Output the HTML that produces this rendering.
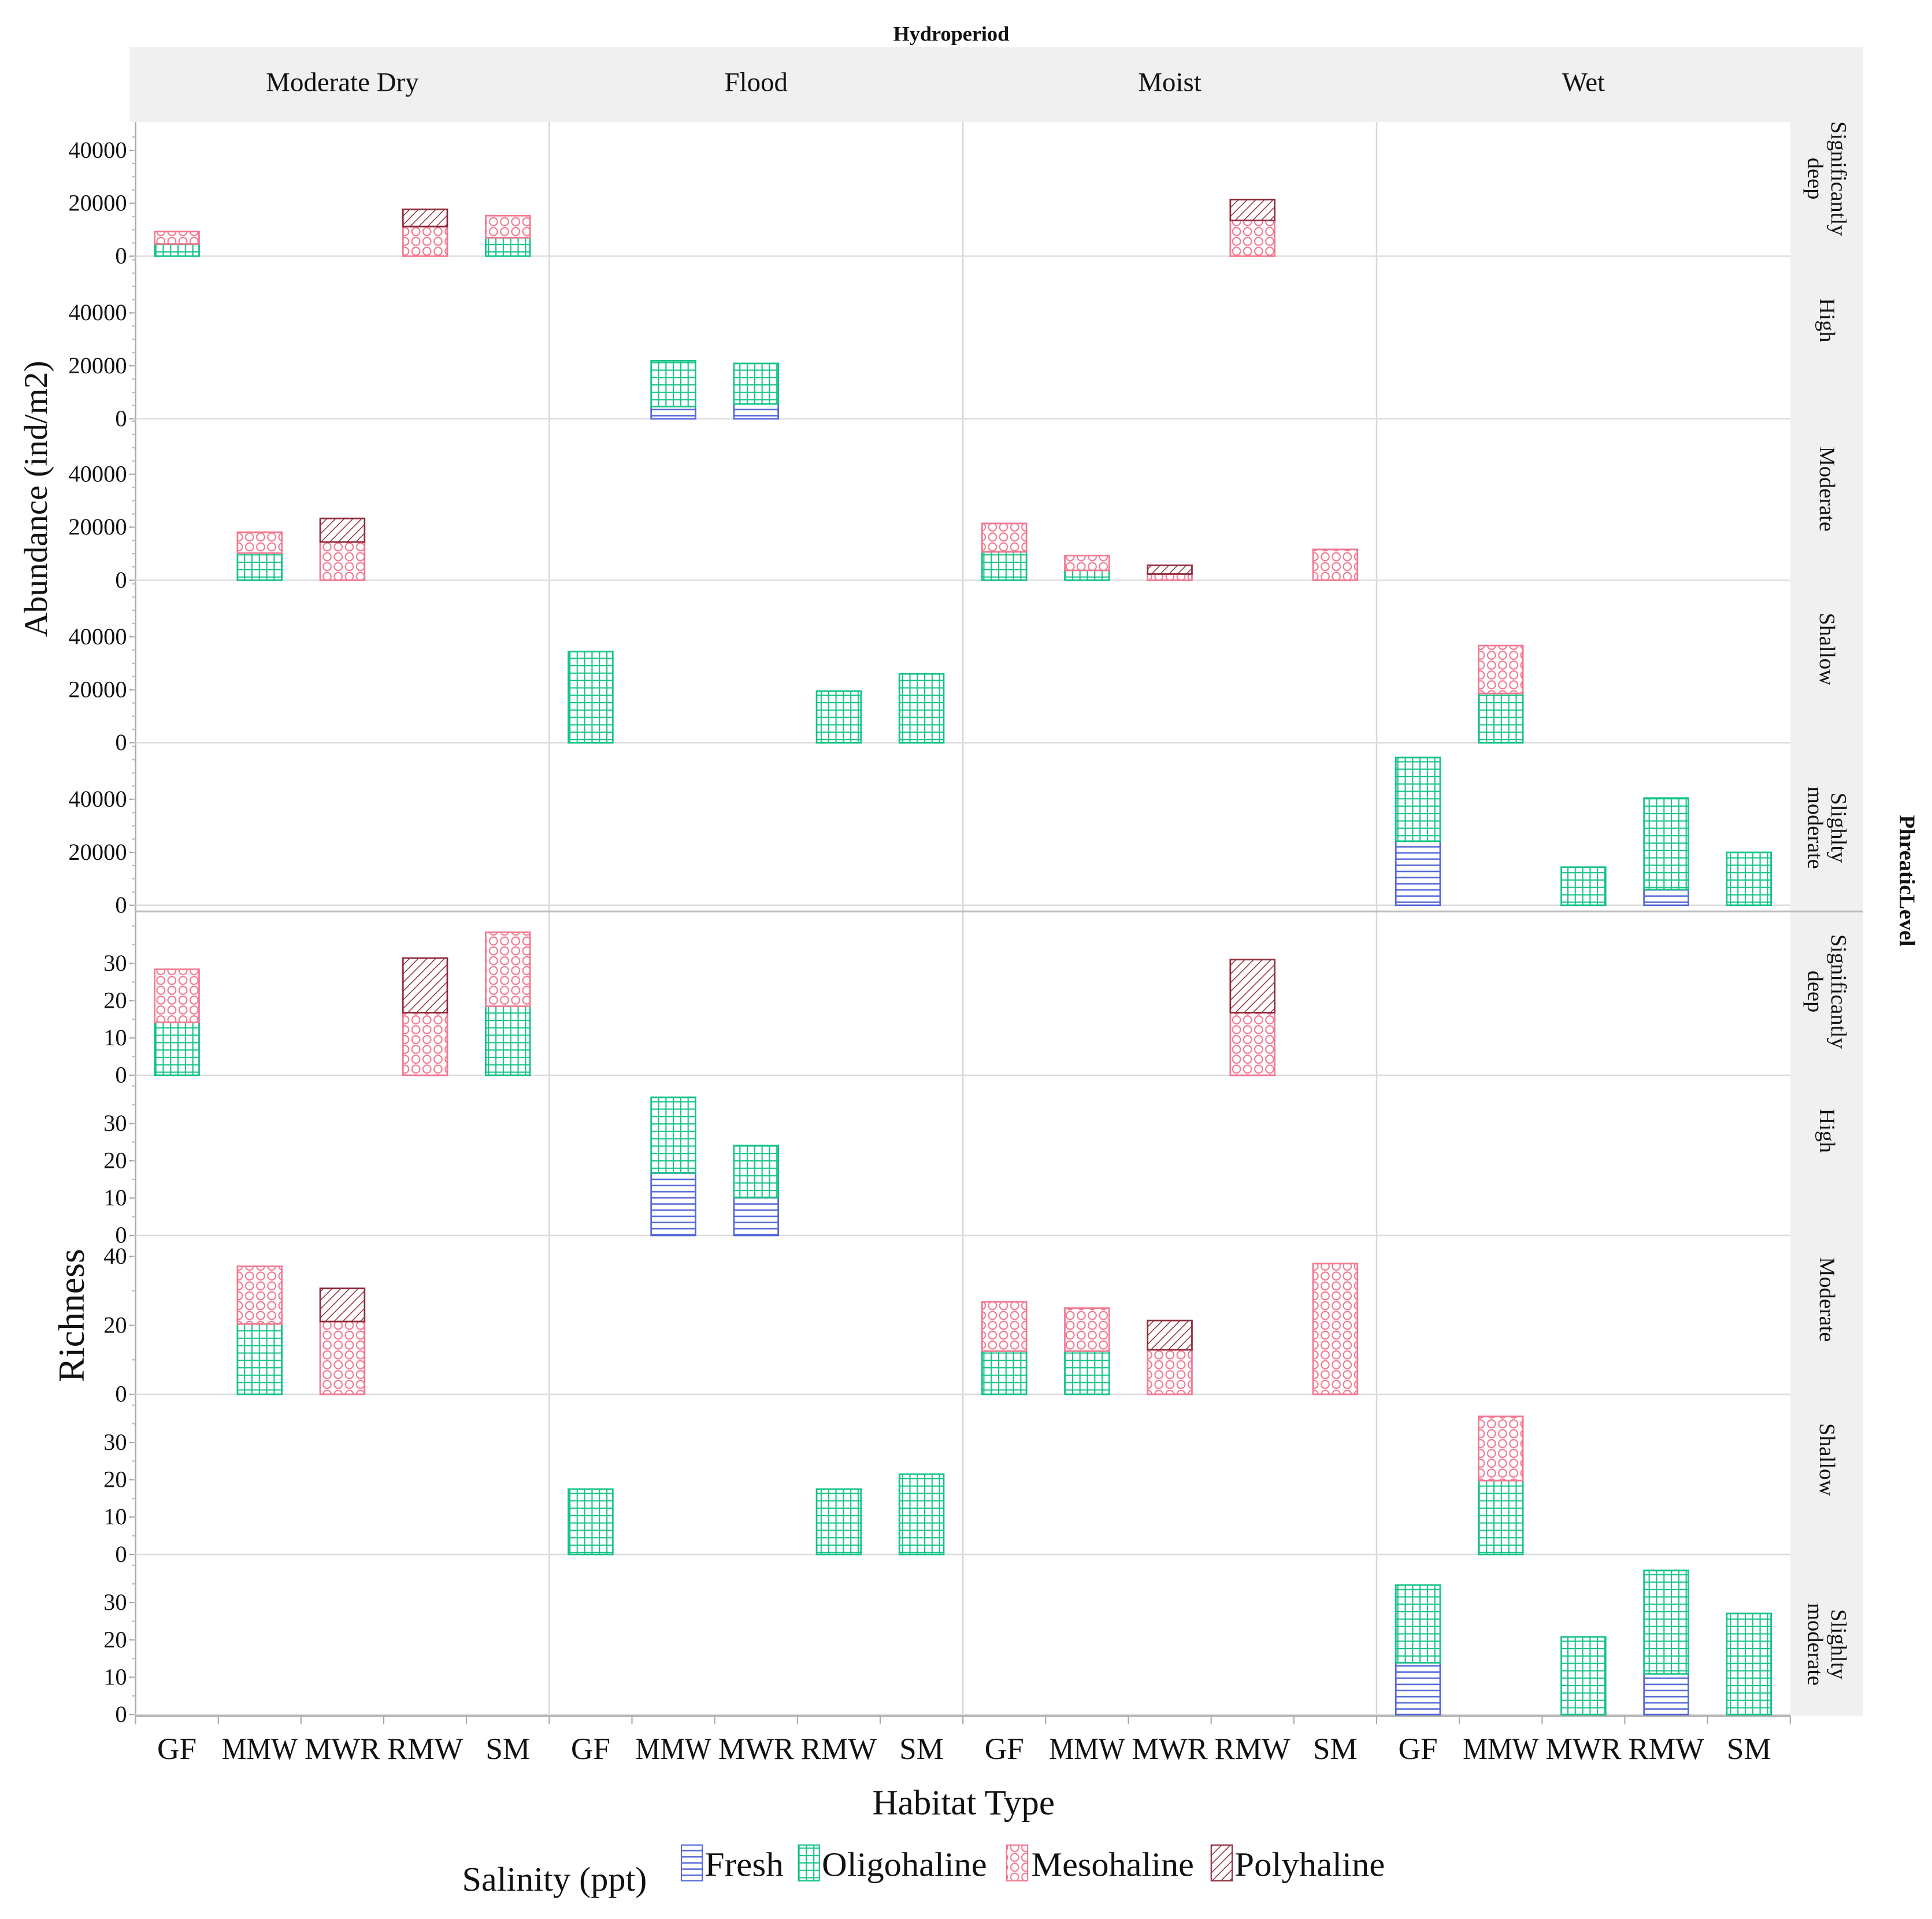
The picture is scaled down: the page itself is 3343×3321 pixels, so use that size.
<!DOCTYPE html>
<html><head><meta charset="utf-8"><style>html,body{margin:0;padding:0;background:#fff}svg{display:block}text{font-family:"Liberation Serif",serif;fill:#111}</style></head>
<body>
<svg id="chart" xmlns="http://www.w3.org/2000/svg" width="3343" height="3321" viewBox="0 0 1568 1558" preserveAspectRatio="none">
<defs>
<pattern id="pFresh" width="6" height="5" patternUnits="userSpaceOnUse"><rect width="6" height="5" fill="#fff"/><line x1="0" y1="2.5" x2="6" y2="2.5" stroke="#5468d6" stroke-width="1.2"/></pattern>
<pattern id="pOligo" width="6" height="6" patternUnits="userSpaceOnUse"><rect width="6" height="6" fill="#fff"/><path d="M0 0H6M0 0V6" stroke="#14c384" stroke-width="2"/></pattern>
<pattern id="pMeso" width="9" height="8" patternUnits="userSpaceOnUse"><rect width="9" height="8" fill="#fff"/><circle cx="4.5" cy="4" r="3.2" fill="none" stroke="#f27890" stroke-width="1"/></pattern>
<pattern id="pPoly" width="5" height="5" patternUnits="userSpaceOnUse" patternTransform="rotate(45)"><rect width="5" height="5" fill="#fff"/><line x1="0" y1="0" x2="0" y2="5" stroke="#8e2b3c" stroke-width="1.4"/></pattern>
</defs>
<text x="772" y="33" text-anchor="middle" font-size="17" font-weight="bold">Hydroperiod</text>
<rect x="105" y="38" width="1407" height="61" fill="#f0f0f0"/>
<rect x="1453" y="99" width="59" height="1294" fill="#f0f0f0"/>
<g id="g"></g>
<text transform="translate(1542,715) rotate(90)" text-anchor="middle" font-size="18" font-weight="bold">PhreaticLevel</text>
<text transform="translate(38,405) rotate(-90)" text-anchor="middle" font-size="27">Abundance (ind/m2)</text>
<text transform="translate(68,1068) rotate(-90)" text-anchor="middle" font-size="30">Richness</text>
<text x="782" y="1473" text-anchor="middle" font-size="29" textLength="148" lengthAdjust="spacingAndGlyphs">Habitat Type</text>
<g>
<text x="375" y="1535" font-size="28" textLength="150" lengthAdjust="spacingAndGlyphs">Salinity (ppt)</text>
<rect x="553" y="1498" width="17" height="29" fill="url(#pFresh)" stroke="#5468d6"/>
<text x="572" y="1523" font-size="28" textLength="64" lengthAdjust="spacingAndGlyphs">Fresh</text>
<rect x="648" y="1498" width="17" height="29" fill="url(#pOligo)" stroke="#14c384"/>
<text x="667" y="1523" font-size="28" textLength="134" lengthAdjust="spacingAndGlyphs">Oligohaline</text>
<rect x="817" y="1498" width="17" height="29" fill="url(#pMeso)" stroke="#f27890"/>
<text x="837" y="1523" font-size="28" textLength="132" lengthAdjust="spacingAndGlyphs">Mesohaline</text>
<rect x="983" y="1498" width="17" height="29" fill="url(#pPoly)" stroke="#8e2b3c"/>
<text x="1002" y="1523" font-size="28" textLength="122" lengthAdjust="spacingAndGlyphs">Polyhaline</text>
</g>
</svg>
<script>
const hydroperiods = ["Moderate Dry","Flood","Moist","Wet"];
const habitats = ["GF","MMW","MWR","RMW","SM"];
const phreaticLevels = [["Significantly","deep"],["High"],["Moderate"],["Shallow"],["Slighlty","moderate"]];
const salinityClasses = ["Fresh","Oligohaline","Mesohaline","Polyhaline"];
const abundTicks = [0,20000,40000];
const richTicks = [[0,10,20,30],[0,10,20,30],[0,20,40],[0,10,20,30],[0,10,20,30]];
// records: [rowIndex, colIndex, habitatIndex, fresh, oligo, meso, poly]
const abundance = [
 [0,0,0,0,4600,4700,0],[0,0,3,0,0,11200,6500],[0,0,4,0,7000,8300,0],[0,2,3,0,0,13500,7900],
 [1,1,1,4600,17300,0,0],[1,1,2,5600,15300,0,0],
 [2,0,1,0,10200,7900,0],[2,0,2,0,0,14400,8900],[2,2,0,0,10700,10700,0],[2,2,1,0,3700,5600,0],[2,2,2,0,0,2300,3300],[2,2,4,0,0,11600,0],
 [3,1,0,0,34400,0,0],[3,1,3,0,19500,0,0],[3,1,4,0,26000,0,0],[3,3,1,0,18600,18100,0],
 [4,3,0,24200,31600,0,0],[4,3,2,0,14400,0,0],[4,3,3,6000,34500,0,0],[4,3,4,0,20000,0,0]
];
const richness = [
 [0,0,0,0,14.2,14.2,0],[0,0,3,0,0,16.8,14.6],[0,0,4,0,18.5,19.8,0],[0,2,3,0,0,16.8,14.2],
 [1,1,1,16.8,20.2,0,0],[1,1,2,10.2,13.9,0,0],
 [2,0,1,0,20.4,16.7,0],[2,0,2,0,0,21.1,9.6],[2,2,0,0,12.5,14.3,0],[2,2,1,0,12.5,12.5,0],[2,2,2,0,0,12.9,8.5],[2,2,4,0,0,37.9,0],
 [3,1,0,0,17.5,0,0],[3,1,3,0,17.5,0,0],[3,1,4,0,21.5,0,0],[3,3,1,0,19.8,17.2,0],
 [4,3,0,13.9,20.8,0,0],[4,3,2,0,20.8,0,0],[4,3,3,10.9,27.7,0,0],[4,3,4,0,27.1,0,0]
];

const NS="http://www.w3.org/2000/svg", G=document.getElementById('g');
function mk(t,a,p){const e=document.createElementNS(NS,t);for(const k in a)e.setAttribute(k,a[k]);(p||G).appendChild(e);return e;}
const PL=110, PR=1453, colW=(PR-PL)/4;
const abZero=[208,340,471,603,735], riZero=[873,1003,1132,1262,1392];
const abTop=[100,208,340,471,603], riTop=[745,873,1003,1132,1262];
function xCenter(c,h){return PL+c*colW+colW/10+h*colW/5;}
function yAb(r,v){return abZero[r]-v*86/40000;}
function yRi(r,v){return riZero[r]-v*(r===2?2.8:3.03);}
const fills=["url(#pFresh)","url(#pOligo)","url(#pMeso)","url(#pPoly)"];
const strokes=["#5468d6","#14c384","#f27890","#8e2b3c"];

hydroperiods.forEach((h,i)=>{const t=mk('text',{x:PL+i*colW+colW/2,y:74,'text-anchor':'middle','font-size':22});t.textContent=h;

});
for(let i=1;i<4;i++){const l=mk('line',{x1:PL+i*colW,y1:99,x2:PL+i*colW,y2:1393,stroke:'#d8d8d8','stroke-width':1.2});

}
mk('line',{x1:PL,y1:99,x2:PL,y2:1393,stroke:'#aaa','stroke-width':1.2});
mk('line',{x1:PL,y1:1393,x2:PR,y2:1393,stroke:'#aaa','stroke-width':1.5});
mk('line',{x1:PL,y1:740,x2:1512,y2:740,stroke:'#bbb','stroke-width':1.5});

function panelAxes(zeros,tops,yf,ticksFor,minorStep){
 zeros.forEach((z,r)=>{
  const zl=mk('line',{x1:PL,y1:z,x2:PR,y2:z,stroke:'#ddd','stroke-width':1.2});
  
  
  ticksFor(r).forEach(v=>{const y=yf(r,v);mk('line',{x1:PL-5,y1:y,x2:PL,y2:y,stroke:'#999'});
   const t=mk('text',{x:PL-7,y:y+6,'text-anchor':'end','font-size':19});t.textContent=v;
   
   });
  const ms=minorStep(r);
  for(let v=0;yf(r,v)>=tops[r]+2;v+=ms){const y=yf(r,v);mk('line',{x1:PL-3,y1:y,x2:PL,y2:y,stroke:'#bbb'});}
 });
}
panelAxes(abZero,abTop,yAb,()=>abundTicks,()=>5000);
panelAxes(riZero,riTop,yRi,r=>richTicks[r],r=>r===2?10:5);

const labelY=[145,260,397,527,672,805,918,1055,1185,1335];
labelY.forEach((y,i)=>{const lines=phreaticLevels[i%5];const g=mk('g',{transform:`translate(1483,${y}) rotate(90)`});
 
 
 lines.forEach((s,j)=>{const t=mk('text',{x:0,y:(j-(lines.length-1)/2)*19+6,'text-anchor':'middle','font-size':18},g);t.textContent=s;});});

for(let c=0;c<4;c++){for(let h=0;h<5;h++){
 const x=xCenter(c,h);
 const t=mk('text',{x:x,y:1428,'text-anchor':'middle','font-size':25});t.textContent=habitats[h];
 
 
 if(habitats[h].length>2){t.setAttribute('textLength',habitats[h].length*20.5);t.setAttribute('lengthAdjust','spacingAndGlyphs');}
 mk('line',{x1:PL+c*colW+h*colW/5,y1:1393,x2:PL+c*colW+h*colW/5,y2:1400,stroke:'#aaa'});
}}
mk('line',{x1:PR,y1:1393,x2:PR,y2:1400,stroke:'#aaa'});

function drawBars(data,yf,metric){
 data.forEach(d=>{const [r,c,h]=d;const x=xCenter(c,h)-18;let acc=0;
  for(let s=0;s<4;s++){const v=d[3+s];if(!v)continue;const y0=yf(r,acc),y1=yf(r,acc+v);acc+=v;
   const b=mk('rect',{x:x,y:y1,width:36,height:y0-y1,fill:fills[s],stroke:strokes[s],'stroke-width':1.3});
   
   }
 });
}
drawBars(abundance,yAb,'abundance');
drawBars(richness,yRi,'richness');
</script>
</body></html>
